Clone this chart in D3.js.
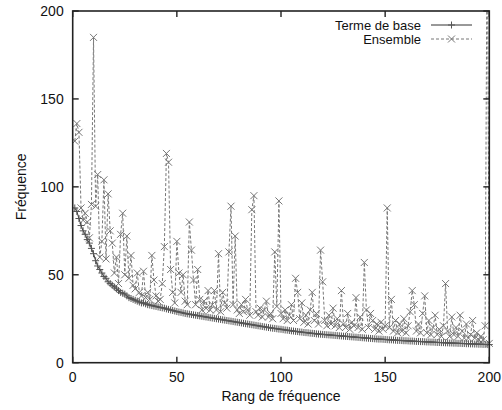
<!DOCTYPE html>
<html>
<head>
<meta charset="utf-8">
<script src="https://cdn.jsdelivr.net/npm/d3@7"></script>
<style>
  body { margin: 0; background: #fff; }
  text { font-family: "Liberation Sans", Arial, sans-serif; fill: #111; }
</style>
</head>
<body>
<svg width="502" height="410"></svg>
<script>
// Terme de base, rang 1..200
var termeBase = [
  88, 86, 82, 78, 75, 73, 70, 68, 65, 62,
  58, 55, 53, 51, 49, 48, 46, 45, 44, 43,
  42, 41, 40, 39.5, 39, 38, 37, 36.5, 36, 35.5,
  35, 34.5, 34, 34, 33.5, 33, 32.8, 32.5, 32.2, 32,
  31.7, 31.4, 31.2, 31, 30.6, 30.3, 30, 29.7, 29.4, 29.1,
  28.8, 28.6, 28.3, 28, 27.8, 27.6, 27.4, 27.2, 27, 26.8,
  26.6, 26.4, 26.2, 26, 25.8, 25.6, 25.4, 25.2, 25, 24.8,
  24.6, 24.4, 24.2, 24, 23.8, 23.6, 23.4, 23.2, 23, 22.8,
  22.6, 22.4, 22.2, 22, 21.8, 21.6, 21.4, 21.2, 21, 20.8,
  20.6, 20.4, 20.2, 20, 19.8, 19.6, 19.5, 19.3, 19.1, 19,
  18.8, 18.6, 18.5, 18.3, 18.1, 18, 17.8, 17.7, 17.5, 17.4,
  17.2, 17.1, 17, 16.8, 16.7, 16.6, 16.4, 16.3, 16.2, 16.1,
  16, 15.9, 15.8, 15.7, 15.6, 15.5, 15.4, 15.3, 15.2, 15.1,
  15, 14.9, 14.8, 14.7, 14.6, 14.5, 14.4, 14.3, 14.2, 14.1,
  14, 13.9, 13.8, 13.7, 13.6, 13.5, 13.4, 13.4, 13.3, 13.2,
  13.1, 13, 13, 12.9, 12.8, 12.7, 12.7, 12.6, 12.5, 12.5,
  12.4, 12.3, 12.3, 12.2, 12.1, 12.1, 12, 12, 11.9, 11.8,
  11.8, 11.7, 11.7, 11.6, 11.5, 11.5, 11.4, 11.4, 11.3, 11.3,
  11.2, 11.2, 11.1, 11.1, 11, 11, 10.9, 10.9, 10.8, 10.8,
  10.7, 10.7, 10.6, 10.6, 10.5, 10.5, 10.4, 10.4, 10.3, 10.3
];

// Ensemble, rang 1..200
var ensemble = [
  126, 136, 131, 88, 81, 85, 80, 71, 90, 185,
  89, 107, 60, 69, 104, 59, 96, 75, 68, 51,
  60, 45, 73, 85, 50, 72, 48, 61, 44, 42,
  51, 40, 38, 52, 37, 40, 36, 61, 47, 38,
  35, 36, 45, 66, 119, 114, 53, 40, 34, 69,
  51, 40, 50, 35, 33, 80, 64, 47, 33, 53,
  36, 30, 35, 31, 41, 30, 33, 41, 30, 62,
  29, 40, 34, 31, 63, 89, 33, 72, 30, 28,
  33, 29, 36, 30, 27, 87, 95, 29, 27, 31,
  26, 30, 35, 26, 28, 25, 63, 32, 92, 28,
  25, 30, 24, 27, 33, 24, 48, 40, 25, 34,
  23, 27, 22, 30, 40, 24, 28, 22, 64, 46,
  24, 21, 27, 22, 31, 21, 25, 20, 41, 22,
  20, 28, 19, 23, 21, 37, 20, 26, 19, 57,
  30, 20, 28, 24, 19, 22, 18, 23, 19, 21,
  88, 20, 36, 18, 24, 17, 22, 18, 25, 17,
  21, 29, 41, 33, 18, 22, 17, 28, 38, 17,
  24, 16, 20, 27, 16, 19, 15, 21, 45, 18,
  15, 26, 16, 20, 15, 27, 18, 14, 22, 14,
  16, 24, 14, 17, 13, 15, 13, 21, 260, 11
];

var xTicks = [0, 50, 100, 150, 200];
var yTicks = [0, 50, 100, 150, 200];
var seriesNames = ["Terme de base", "Ensemble"];

var plotL = 72.7, plotR = 489.3, plotT = 11, plotB = 362.7;

var svg = d3.select("svg");

var x = d3.scaleLinear().domain([0, 200]).range([plotL, plotR]);
var y = d3.scaleLinear().domain([0, 200]).range([plotB, plotT]);

svg.append("clipPath").attr("id", "clip")
    .append("rect")
    .attr("x", plotL).attr("y", plotT - 1)
    .attr("width", plotR - plotL + 4).attr("height", plotB - plotT + 2);

var plot = svg.append("g").attr("clip-path", "url(#clip)");

var baseData = termeBase.map(function (v, i) { return [i + 1, v]; });
var ensData = ensemble.map(function (v, i) { return [i + 1, v]; });

var line = d3.line()
    .x(function (d) { return x(d[0]); })
    .y(function (d) { return y(d[1]); });

function crossX(px, py, s) {
    return "M" + (px - s) + "," + (py - s) + "L" + (px + s) + "," + (py + s) +
           "M" + (px - s) + "," + (py + s) + "L" + (px + s) + "," + (py - s);
}
function plus(px, py, s) {
    return "M" + (px - s) + "," + py + "L" + (px + s) + "," + py +
           "M" + px + "," + (py - s) + "L" + px + "," + (py + s);
}

// Ensemble : dashed line, x markers
plot.append("path")
    .datum(ensData)
    .attr("d", line)
    .attr("fill", "none")
    .attr("stroke", "#777")
    .attr("stroke-width", 1)
    .attr("stroke-dasharray", "3,2");

plot.selectAll("path.ens")
    .data(ensData)
    .enter()
    .append("path")
    .attr("class", "ens")
    .attr("d", function (d) { return crossX(x(d[0]), y(d[1]), 3.5); })
    .attr("stroke", "#777")
    .attr("stroke-width", 1)
    .attr("fill", "none");

// Terme de base : solid line, + markers
plot.append("path")
    .datum(baseData)
    .attr("d", line)
    .attr("fill", "none")
    .attr("stroke", "#333")
    .attr("stroke-width", 1);

plot.selectAll("path.base")
    .data(baseData)
    .enter()
    .append("path")
    .attr("class", "base")
    .attr("d", function (d) { return plus(x(d[0]), y(d[1]), 3.5); })
    .attr("stroke", "#555")
    .attr("stroke-width", 1)
    .attr("fill", "none");

// border
svg.append("rect")
    .attr("x", plotL).attr("y", plotT)
    .attr("width", plotR - plotL).attr("height", plotB - plotT)
    .attr("fill", "none")
    .attr("stroke", "#222")
    .attr("stroke-width", 1.6);

// ticks (mirrored, inward)
var tickLen = 6;
var ticks = svg.append("g").attr("stroke", "#222").attr("stroke-width", 1.4);
xTicks.forEach(function (t) {
    ticks.append("line").attr("x1", x(t)).attr("x2", x(t)).attr("y1", plotB).attr("y2", plotB - tickLen);
    ticks.append("line").attr("x1", x(t)).attr("x2", x(t)).attr("y1", plotT).attr("y2", plotT + tickLen);
});
yTicks.forEach(function (t) {
    ticks.append("line").attr("x1", plotL).attr("x2", plotL + tickLen).attr("y1", y(t)).attr("y2", y(t));
    ticks.append("line").attr("x1", plotR).attr("x2", plotR - tickLen).attr("y1", y(t)).attr("y2", y(t));
});

svg.selectAll("text.xt")
    .data(xTicks)
    .enter()
    .append("text")
    .attr("class", "xt")
    .attr("x", function (d) { return x(d); })
    .attr("y", plotB + 19)
    .attr("text-anchor", "middle")
    .style("font-size", "14px")
    .text(function (d) { return d; });

svg.selectAll("text.yt")
    .data(yTicks)
    .enter()
    .append("text")
    .attr("class", "yt")
    .attr("x", plotL - 9)
    .attr("y", function (d) { return y(d) + 5; })
    .attr("text-anchor", "end")
    .style("font-size", "14px")
    .text(function (d) { return d; });

svg.append("text")
    .attr("x", (plotL + plotR) / 2)
    .attr("y", 401)
    .attr("text-anchor", "middle")
    .style("font-size", "14px")
    .text("Rang de fréquence");

svg.append("text")
    .attr("transform", "translate(26," + ((plotT + plotB) / 2) + ") rotate(-90)")
    .attr("text-anchor", "middle")
    .style("font-size", "14px")
    .text("Fréquence");

// legend
var legend = svg.append("g");
seriesNames.forEach(function (name, i) {
    var ly = 25 + i * 14;
    legend.append("text")
        .attr("x", 421)
        .attr("y", ly + 4.5)
        .attr("text-anchor", "end")
        .style("font-size", "13px")
        .text(name);
    legend.append("line")
        .attr("x1", 431).attr("x2", 472)
        .attr("y1", ly).attr("y2", ly)
        .attr("stroke", i === 0 ? "#333" : "#777")
        .attr("stroke-width", 1)
        .attr("stroke-dasharray", i === 0 ? null : "3,2");
    legend.append("path")
        .attr("d", i === 0 ? plus(451.5, ly, 3.5) : crossX(451.5, ly, 3.5))
        .attr("stroke", i === 0 ? "#555" : "#777")
        .attr("fill", "none");
});
</script>
</body>
</html>
